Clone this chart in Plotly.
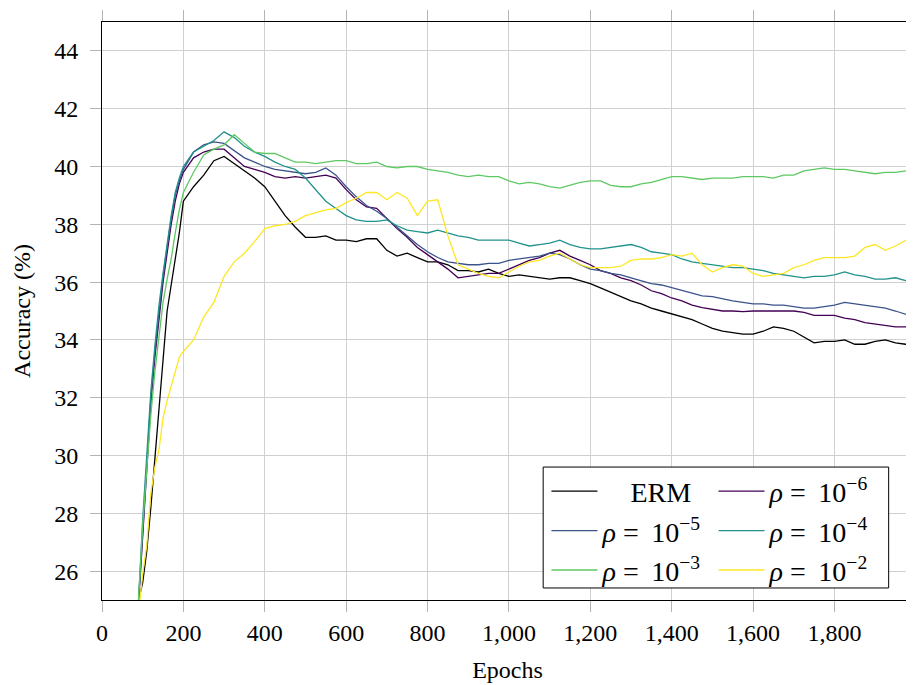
import plotly.graph_objects as go

epochs = [80, 90, 100, 110, 120, 130, 140, 150, 160, 170, 180, 190, 200,
          225, 250, 275, 300, 325, 350, 375, 400, 425, 450, 475, 500,
          525, 550, 575, 600, 625, 650, 675, 700, 725, 750, 775, 800,
          825, 850, 875, 900, 925, 950, 975, 1000, 1025, 1050, 1075, 1100,
          1125, 1150, 1175, 1200, 1225, 1250, 1275, 1300, 1325, 1350, 1375, 1400,
          1425, 1450, 1475, 1500, 1525, 1550, 1575, 1600, 1625, 1650, 1675, 1700,
          1725, 1750, 1775, 1800, 1825, 1850, 1875, 1900, 1925, 1950, 1975, 1995]

erm = [22.8, 25.0, 25.6, 26.7, 28.2, 29.9, 31.5, 33.5, 35.0, 35.9, 36.8, 37.7, 38.8,
       39.3, 39.7, 40.2, 40.35, 40.1, 39.85, 39.6, 39.3, 38.8, 38.3, 37.9, 37.55,
       37.55, 37.6, 37.45, 37.45, 37.4, 37.5, 37.5, 37.1, 36.9, 37.0, 36.85, 36.7,
       36.7, 36.6, 36.4, 36.4, 36.35, 36.45, 36.3, 36.2, 36.25, 36.2, 36.15, 36.1,
       36.15, 36.15, 36.05, 35.95, 35.8, 35.65, 35.5, 35.35, 35.25, 35.1, 35.0, 34.9,
       34.8, 34.7, 34.55, 34.4, 34.3, 34.25, 34.2, 34.2, 34.3, 34.45, 34.4, 34.3,
       34.1, 33.9, 33.95, 33.95, 34.0, 33.85, 33.85, 33.95, 34.0, 33.9, 33.85, 33.8]

rho_1e6 = [22.6, 25.0, 27.3, 29.6, 31.8, 33.4, 34.8, 36.0, 37.0, 38.0, 38.8, 39.4, 39.8,
           40.3, 40.5, 40.6, 40.6, 40.3, 40.0, 39.9, 39.8, 39.65, 39.6, 39.65, 39.6,
           39.65, 39.7, 39.6, 39.2, 38.85, 38.6, 38.55, 38.2, 37.85, 37.55, 37.2, 36.95,
           36.7, 36.45, 36.15, 36.2, 36.25, 36.3, 36.3, 36.45, 36.6, 36.75, 36.85, 37.0,
           37.1, 36.9, 36.75, 36.6, 36.4, 36.3, 36.15, 36.05, 35.9, 35.7, 35.6, 35.45,
           35.35, 35.2, 35.12, 35.05, 35.0, 35.0, 34.98, 35.0, 35.0, 35.0, 35.0, 35.0,
           34.95, 34.85, 34.85, 34.85, 34.75, 34.7, 34.6, 34.55, 34.5, 34.45, 34.45, 34.5]

rho_1e5 = [22.7, 25.0, 27.5, 29.8, 32.0, 33.6, 35.0, 36.2, 37.2, 38.2, 39.0, 39.5, 39.9,
           40.5, 40.75, 40.85, 40.8, 40.55, 40.3, 40.15, 40.0, 39.9, 39.85, 39.8, 39.75,
           39.8, 39.95, 39.7, 39.3, 38.95, 38.65, 38.45, 38.2, 37.9, 37.6, 37.3, 37.05,
           36.85, 36.7, 36.65, 36.6, 36.6, 36.65, 36.65, 36.75, 36.8, 36.85, 36.9, 37.0,
           36.95, 36.8, 36.6, 36.45, 36.4, 36.3, 36.25, 36.15, 36.05, 35.95, 35.9, 35.8,
           35.7, 35.62, 35.52, 35.5, 35.42, 35.35, 35.3, 35.25, 35.25, 35.2, 35.2, 35.15,
           35.1, 35.1, 35.15, 35.2, 35.3, 35.25, 35.2, 35.15, 35.1, 35.0, 34.9, 34.8]

rho_1e4 = [22.8, 25.0, 27.8, 30.0, 32.2, 33.8, 35.2, 36.3, 37.3, 38.3, 39.1, 39.6, 40.0,
           40.5, 40.7, 40.9, 41.2, 41.0, 40.7, 40.5, 40.35, 40.15, 40.0, 39.9, 39.6,
           39.2, 38.8, 38.55, 38.3, 38.15, 38.1, 38.1, 38.15, 37.95, 37.8, 37.75, 37.7,
           37.8, 37.7, 37.6, 37.55, 37.45, 37.45, 37.45, 37.45, 37.35, 37.25, 37.3, 37.35,
           37.45, 37.3, 37.2, 37.15, 37.15, 37.2, 37.25, 37.3, 37.2, 37.05, 37.0, 36.95,
           36.8, 36.7, 36.65, 36.6, 36.55, 36.5, 36.5, 36.45, 36.4, 36.3, 36.25, 36.2,
           36.15, 36.2, 36.2, 36.25, 36.35, 36.25, 36.2, 36.1, 36.1, 36.15, 36.05, 36.05]

rho_1e3 = [22.6, 25.0, 27.6, 29.5, 31.4, 32.9, 34.1, 35.3, 36.1, 36.8, 37.7, 38.5, 39.1,
           39.8, 40.4, 40.6, 40.75, 41.1, 40.8, 40.5, 40.45, 40.45, 40.3, 40.15, 40.15,
           40.1, 40.15, 40.2, 40.2, 40.1, 40.1, 40.15, 40.0, 39.95, 40.0, 40.0, 39.9,
           39.85, 39.8, 39.7, 39.65, 39.7, 39.65, 39.65, 39.5, 39.4, 39.45, 39.4, 39.3,
           39.25, 39.35, 39.45, 39.5, 39.5, 39.35, 39.3, 39.3, 39.4, 39.45, 39.55, 39.65,
           39.65, 39.6, 39.55, 39.6, 39.6, 39.6, 39.65, 39.65, 39.65, 39.6, 39.7, 39.7,
           39.85, 39.9, 39.95, 39.9, 39.9, 39.85, 39.8, 39.75, 39.8, 39.8, 39.85, 39.9]

rho_1e2 = [22.5, 24.6, 25.9, 26.9, 28.7, 29.6, 30.2, 31.3, 31.9, 32.4, 32.9, 33.4, 33.6,
           34.0, 34.8, 35.3, 36.2, 36.7, 37.0, 37.4, 37.85, 37.95, 38.0, 38.1, 38.3,
           38.4, 38.5, 38.55, 38.75, 38.9, 39.1, 39.1, 38.85, 39.1, 38.9, 38.3, 38.8,
           38.85, 37.6, 36.6, 36.45, 36.3, 36.2, 36.15, 36.35, 36.55, 36.7, 36.75, 36.9,
           37.0, 36.8, 36.6, 36.5, 36.5, 36.5, 36.55, 36.75, 36.8, 36.8, 36.85, 36.95,
           36.9, 37.0, 36.6, 36.35, 36.5, 36.6, 36.55, 36.3, 36.2, 36.25, 36.3, 36.5,
           36.6, 36.75, 36.85, 36.85, 36.85, 36.9, 37.2, 37.3, 37.1, 37.25, 37.45, 37.6]

RHO = "<i>ρ</i> = \u200910<sup>−{}</sup>"
series_names = ["\u2003ERM", RHO.format(6), RHO.format(5), RHO.format(4), RHO.format(3), RHO.format(2)]
series_values = [erm, rho_1e6, rho_1e5, rho_1e4, rho_1e3, rho_1e2]
colors = ["#000000", "#440154", "#3b528b", "#21918c", "#5ec962", "#fde725"]
legend_ids = ["legend", "legend2", "legend", "legend2", "legend", "legend2"]

x_ticks = [0, 200, 400, 600, 800, 1000, 1200, 1400, 1600, 1800]
y_ticks = [26, 28, 30, 32, 34, 36, 38, 40, 42, 44]

FONT = "Liberation Serif"

fig = go.Figure()
for i, (nm, ys, col, lg) in enumerate(zip(series_names, series_values, colors, legend_ids)):
    fig.add_trace(go.Scatter(x=epochs, y=ys, mode="lines", name=nm,
                             line=dict(color=col, width=1.3),
                             legend=lg, legendgroup=f"g{i}"))

axis_common = dict(showline=True, linecolor="black", linewidth=1,
                   ticks="outside", ticklen=11, tickcolor="#b4b4b4", tickwidth=1,
                   showgrid=True, gridcolor="#d0d0d0", gridwidth=1, zeroline=False,
                   tickfont=dict(family=FONT, size=24, color="black"))

# the page body adds an 8px offset at the top-left; size the figure so the plot lands where the reference has it
fig.update_layout(
    width=906, height=677,
    margin=dict(l=94, r=1, t=14, b=85),
    paper_bgcolor="white", plot_bgcolor="white",
    font=dict(family=FONT, size=24, color="black"),
    xaxis=dict(range=[0, 1993], tickvals=x_ticks, tickformat=",d", mirror="allticks",
               title=dict(text="Epochs", font=dict(family=FONT, size=24), standoff=16),
               **axis_common),
    yaxis=dict(range=[25, 45], tickvals=y_ticks, ticklabelstandoff=7, mirror=True,
               title=dict(text="Accuracy (%)", font=dict(family=FONT, size=24), standoff=16),
               **axis_common),
    legend=dict(x=0.548, y=0.231, xanchor="left", yanchor="top",
                bgcolor="rgba(0,0,0,0)", borderwidth=0, tracegroupgap=0, itemwidth=46,
                font=dict(family=FONT, size=28)),
    legend2=dict(x=0.754, y=0.231, xanchor="left", yanchor="top",
                 bgcolor="rgba(0,0,0,0)", borderwidth=0, tracegroupgap=0, itemwidth=46,
                 font=dict(family=FONT, size=28)),
    shapes=[dict(type="rect", xref="paper", yref="paper",
                 x0=0.544, x1=0.970, y0=0.0208, y1=0.230,
                 line=dict(color="black", width=1), fillcolor="white", layer="above")],
)

fig.write_html("out.html")
